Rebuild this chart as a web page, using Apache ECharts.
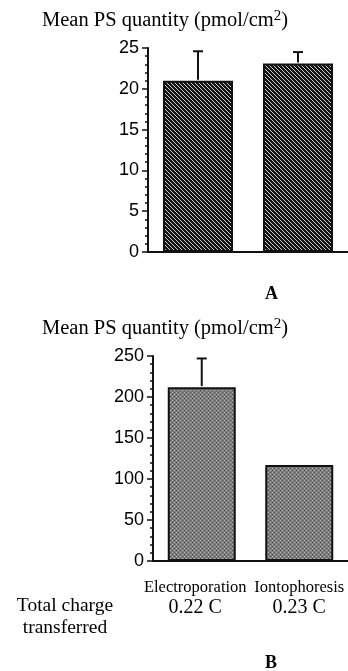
<!DOCTYPE html>
<html>
<head>
<meta charset="utf-8">
<script src="https://cdn.jsdelivr.net/npm/echarts@6/dist/echarts.min.js"></script>
<style>
  html, body { margin: 0; padding: 0; background: #fff; }
  #chart { width: 348px; height: 671px; }
</style>
</head>
<body>
<div id="chart"></div>
<script>
// data
const categories = ['Electroporation', 'Iontophoresis'];
const charges = ['0.22 C', '0.23 C'];
const meanA = [21, 23.1];
const sdA = [3.6, 1.4];
const meanB = [212, 117];
const sdB = [35, 0];
const ticksA = [0, 5, 10, 15, 20, 25];
const ticksB = [0, 50, 100, 150, 200, 250];

const serif = '"Liberation Serif", "DejaVu Serif", serif';
const sans = '"Liberation Sans", Arial, sans-serif';

// hatch for panel A: dark with thin light diagonals
function hatch() {
  const c = document.createElement('canvas');
  c.width = 4; c.height = 4;
  const g = c.getContext('2d');
  g.fillStyle = '#141414';
  g.fillRect(0, 0, 4, 4);
  g.strokeStyle = 'rgba(235,235,235,0.85)';
  g.lineWidth = 1;
  g.beginPath();
  g.moveTo(-1, -1); g.lineTo(5, 5);
  g.moveTo(-1, 3); g.lineTo(1, 5);
  g.moveTo(3, -1); g.lineTo(5, 1);
  g.stroke();
  return c;
}

// stipple for panel B: grey dotted
function stipple() {
  const c = document.createElement('canvas');
  c.width = 4; c.height = 4;
  const g = c.getContext('2d');
  g.fillStyle = '#7c7c7c';
  g.fillRect(0, 0, 4, 4);
  g.fillStyle = '#b4b4b4';
  g.fillRect(0, 0, 1, 1);
  g.fillRect(2, 2, 1, 1);
  g.fillStyle = '#555';
  g.fillRect(2, 0, 1, 1);
  g.fillRect(0, 2, 1, 1);
  return c;
}

function errorBar(params, api) {
  const x = api.value(0);
  const y = api.value(1);
  const top = api.value(2);
  const p0 = api.coord([x, y]);
  const p1 = api.coord([x, top]);
  const style = { stroke: '#111', lineWidth: 2 };
  return {
    type: 'group',
    children: [
      { type: 'line', shape: { x1: p0[0], y1: p0[1] - 1, x2: p1[0], y2: p1[1] }, style },
      { type: 'line', shape: { x1: p1[0] - 5, y1: p1[1], x2: p1[0] + 5, y2: p1[1] }, style },
    ],
  };
}

function yAxisOf(gridIndex, max, interval) {
  return {
    type: 'value',
    gridIndex,
    min: 0,
    max,
    interval,
    splitLine: { show: false },
    axisLine: { show: true, lineStyle: { color: '#111', width: 2 } },
    axisTick: { show: true, length: 6, lineStyle: { color: '#111', width: 1.5 } },
    minorTick: { show: true, splitNumber: 5, length: 3, lineStyle: { color: '#111', width: 1.5 } },
    axisLabel: { color: '#000', fontFamily: sans, fontSize: 18, margin: 9 },
  };
}

const titleRich = {
  t: { fontFamily: serif, fontSize: 20.5, color: '#000' },
  sup: { fontFamily: serif, fontSize: 15, color: '#000', verticalAlign: 'top', padding: [0, 0, 9, 0] },
};

const chart = echarts.init(document.getElementById('chart'));
chart.setOption({
  animation: false,
  graphic: [
    { type: 'text', left: 42, top: 9, style: { text: '{t|Mean PS quantity (pmol/cm}{sup|2}{t|)}', rich: titleRich } },
    { type: 'text', left: 42, top: 317, style: { text: '{t|Mean PS quantity (pmol/cm}{sup|2}{t|)}', rich: titleRich } },
    { type: 'text', left: 265, top: 285, style: { text: 'A', fontFamily: serif, fontWeight: 'bold', fontSize: 18, fill: '#000' } },
    { type: 'text', left: 265, top: 654, style: { text: 'B', fontFamily: serif, fontWeight: 'bold', fontSize: 18, fill: '#000' } },
    { type: 'text', x: 65, y: 595, style: { text: 'Total charge\ntransferred', align: 'center', fontFamily: serif, fontSize: 19.5, lineHeight: 22, fill: '#000' } },
  ],
  grid: [
    { left: 148, top: 48, width: 208, height: 204 },
    { left: 153, top: 356, width: 202, height: 205 },
  ],
  xAxis: [
    {
      type: 'category',
      gridIndex: 0,
      data: categories,
      axisLine: { lineStyle: { color: '#111', width: 2 } },
      axisTick: { alignWithLabel: true, length: 7, lineStyle: { color: '#111', width: 1.5 } },
      axisLabel: { show: false },
    },
    {
      type: 'category',
      gridIndex: 1,
      data: categories,
      axisLine: { lineStyle: { color: '#111', width: 2 } },
      axisTick: { alignWithLabel: true, length: 7, lineStyle: { color: '#111', width: 1.5 } },
      axisLabel: {
        margin: 17,
        interval: 0,
        formatter: (v, i) => (i === 0 ? '{n0|' + v + '}\n{c0|' + charges[i] + '}' : '{n|' + v + '}\n{c|' + charges[i] + '}'),
        rich: {
          n: { fontFamily: serif, fontSize: 16.5, color: '#000', lineHeight: 19 },
          c: { fontFamily: serif, fontSize: 20, color: '#000', lineHeight: 21 },
          n0: { fontFamily: serif, fontSize: 16.5, color: '#000', lineHeight: 19, padding: [0, 13, 0, 0] },
          c0: { fontFamily: serif, fontSize: 20, color: '#000', lineHeight: 21, padding: [0, 13, 0, 0] },
        },
      },
    },
  ],
  yAxis: [
    yAxisOf(0, ticksA[ticksA.length - 1], ticksA[1] - ticksA[0]),
    yAxisOf(1, ticksB[ticksB.length - 1], ticksB[1] - ticksB[0]),
  ],
  series: [
    {
      type: 'bar',
      xAxisIndex: 0,
      yAxisIndex: 0,
      barWidth: 70,
      data: meanA,
      itemStyle: { color: { image: hatch(), repeat: 'repeat' }, borderColor: '#111', borderWidth: 2 },
    },
    {
      type: 'bar',
      xAxisIndex: 1,
      yAxisIndex: 1,
      barWidth: 68,
      data: meanB,
      itemStyle: { color: { image: stipple(), repeat: 'repeat' }, borderColor: '#111', borderWidth: 2 },
    },
    {
      type: 'custom',
      xAxisIndex: 0,
      yAxisIndex: 0,
      renderItem: errorBar,
      data: meanA.map((m, i) => [i, m, m + sdA[i]]),
      z: 1,
    },
    {
      type: 'custom',
      xAxisIndex: 1,
      yAxisIndex: 1,
      renderItem: errorBar,
      data: meanB.map((m, i) => [i, m, m + sdB[i]]).filter((d, i) => sdB[i] > 0),
      z: 1,
    },
  ],
});
</script>
</body>
</html>
